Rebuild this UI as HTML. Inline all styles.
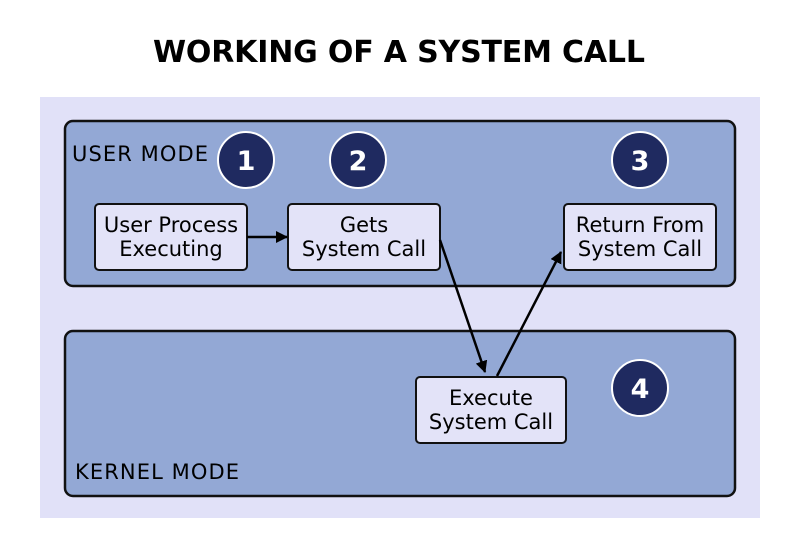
<!DOCTYPE html>
<html><head><style>
body{margin:0;background:#fff;width:798px;height:554px;overflow:hidden;font-family:"DejaVu Sans","Liberation Sans",sans-serif}
</style></head><body>
<svg width="798" height="554" xmlns="http://www.w3.org/2000/svg" font-family="DejaVu Sans, Liberation Sans, sans-serif">
<defs><marker id="a" markerWidth="12" markerHeight="12" refX="11" refY="6" orient="auto" markerUnits="userSpaceOnUse"><path d="M0,0 L12,6 L0,12 z" fill="#000"/></marker></defs>
<text x="399" y="62" text-anchor="middle" font-size="30" font-weight="bold" fill="#000" textLength="492">WORKING OF A SYSTEM CALL</text>
<rect x="40" y="97" width="720" height="421" fill="#e1e1f8"/>
<rect x="65" y="121" width="670" height="165" rx="8" fill="#93a8d5" stroke="#111" stroke-width="2.5"/>
<rect x="65" y="331" width="670" height="165" rx="8" fill="#93a8d5" stroke="#111" stroke-width="2.5"/>
<text x="72" y="161" font-size="21" fill="#000" textLength="136">USER MODE</text>
<text x="75" y="479" font-size="21" fill="#000" textLength="164">KERNEL MODE</text>
<g fill="#1f2a60" stroke="#fff" stroke-width="2">
<circle cx="246" cy="160" r="28"/><circle cx="358" cy="160" r="28"/><circle cx="640" cy="160" r="28"/><circle cx="640" cy="388" r="28"/></g>
<g fill="#fff" font-size="27" font-weight="bold" text-anchor="middle">
<text x="246" y="170">1</text><text x="358" y="170">2</text><text x="640" y="170">3</text><text x="640" y="398">4</text></g>
<g fill="#e3e3f8" stroke="#111" stroke-width="2">
<rect x="95" y="204" width="152" height="66" rx="4"/><rect x="288" y="204" width="152" height="66" rx="4"/>
<rect x="564" y="204" width="152" height="66" rx="4"/><rect x="416" y="377" width="150" height="66" rx="4"/></g>
<g font-size="21" text-anchor="middle" fill="#000">
<text x="171" y="232">User Process</text><text x="171" y="256">Executing</text>
<text x="364" y="232">Gets</text><text x="364" y="256">System Call</text>
<text x="640" y="232">Return From</text><text x="640" y="256">System Call</text>
<text x="491" y="405">Execute</text><text x="491" y="429">System Call</text></g>
<g stroke="#000" stroke-width="2.5" fill="none">
<line x1="247" y1="237" x2="287" y2="237" marker-end="url(#a)"/>
<line x1="440" y1="240" x2="485" y2="372" marker-end="url(#a)"/>
<line x1="497" y1="376" x2="561" y2="252" marker-end="url(#a)"/></g>
</svg>
</body></html>
